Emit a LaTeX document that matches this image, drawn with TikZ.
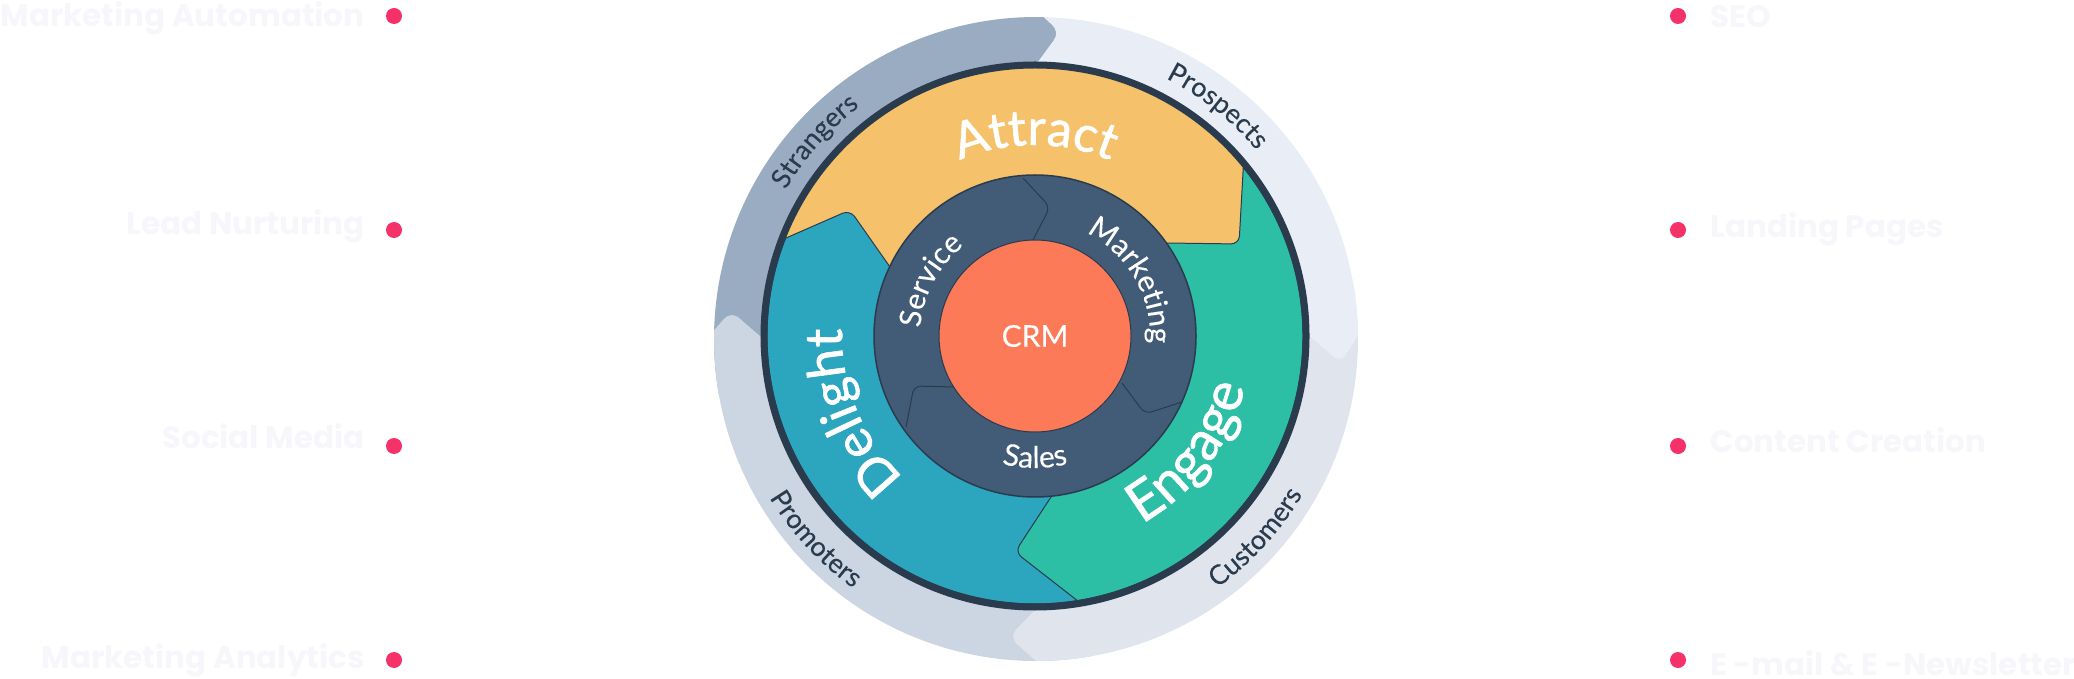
\documentclass[tikz,border=0pt]{standalone}
\usepackage{fontspec}
\usepackage{xcolor}
\usetikzlibrary{decorations.text}
\newfontfamily\wheelfont{Lato}[FakeBold=0.15]
\newfontfamily\stagefont{Lato}[FakeBold=1.2]
\newfontfamily\sidefont{Poppins}
\definecolor{strangersc}{HTML}{9AACC1}
\definecolor{prospectsc}{HTML}{E9EEF6}
\definecolor{customersc}{HTML}{DFE4ED}
\definecolor{promotersc}{HTML}{CBD6E2}
\definecolor{attractc}{HTML}{F5C26B}
\definecolor{engagec}{HTML}{2DBEA6}
\definecolor{delightc}{HTML}{2CA5BF}
\definecolor{hubc}{HTML}{425B76}
\definecolor{rimc}{HTML}{2A3B4E}
\definecolor{crmc}{HTML}{FC7A57}
\definecolor{dotc}{HTML}{F5316A}
\definecolor{sidec}{HTML}{F6F6FB}
\tikzset{
  dot/.style={circle, fill=dotc, minimum size=16, inner sep=0},
  leftlabel/.style={anchor=base east, text=sidec, font=\sidefont\bfseries\fontsize{31}{31}\selectfont},
  rightlabel/.style={anchor=base west, text=sidec, font=\sidefont\bfseries\fontsize{31}{31}\selectfont},
  seam/.style={draw=rimc, line width=1},
  bandtext/.style={decorate, decoration={text along path, text align={align=center}, text={|\wheelfont\fontsize{27}{27}\selectfont\color{rimc}|#1}}},
  hubtext/.style={decorate, decoration={text along path, text align={align=center}, text={|\wheelfont\fontsize{30}{30}\selectfont\color{white}|#1}}},
  stagetext/.style 2 args={decorate, decoration={text along path, text align={align=center}, text={|\stagefont\fontsize{#1}{#1}\selectfont\color{white}|#2}}}
}
\begin{document}
\begin{tikzpicture}[x=1pt, y=1pt]
\useasboundingbox (0,0) rectangle (2074,678);
% side lists
\node (dotauto) [dot] at (394,662) {};
\node (dotlead) [dot] at (394,448) {};
\node (dotsocial) [dot] at (394,232) {};
\node (dotanalytics) [dot] at (394,18) {};
\node (dotseo) [dot] at (1678,662) {};
\node (dotlanding) [dot] at (1678,448) {};
\node (dotcontent) [dot] at (1678,232) {};
\node (dotemail) [dot] at (1678,18) {};
\node (auto) [leftlabel] at (368,651) {Marketing Automation};
\node (lead) [leftlabel] at (368,443) {Lead Nurturing};
\node (social) [leftlabel] at (368,230) {Social Media};
\node (analytics) [leftlabel] at (368,10) {Marketing Analytics};
\node (seo) [rightlabel] at (1707,650) {SEO};
\node (landing) [rightlabel] at (1707,440) {Landing Pages};
\node (content) [rightlabel] at (1707,226) {Content Creation};
\node (email) [rightlabel] at (1707,3) {E -mail \& E -Newsletter};
% outer band
\begin{scope}[shift={(1036,339)}]
\fill [strangersc] (190:322) arc[start angle=190, end angle=88.6, radius=322] [rounded corners=10pt] -- (24,307) [sharp corners] -- (2,277) -- (0,0) -- cycle;
\fill [promotersc] (0,0) -- (-275,2) [rounded corners=10pt] -- (-305,28) [sharp corners] -- (178.4:322) arc[start angle=178.4, end angle=280, radius=322] -- cycle;
\fill [customersc] (0,0) -- (-2,-272) [rounded corners=10pt] -- (-27,-298) [sharp corners] -- (270:322) arc[start angle=270, end angle=370, radius=322] -- cycle;
\fill [prospectsc] (88.6:322) [rounded corners=10pt] -- (24,307) [sharp corners] -- (2,277) -- (0,0) -- (273,3) [rounded corners=10pt] -- (305,-24) [sharp corners] -- (0.7:322) arc[start angle=0.7, end angle=88.6, radius=322] -- cycle;
\end{scope}
\begin{scope}[shift={(1035,342)}]
% wheel
\fill [attractc] (0,0) circle (268);
\path [fill=delightc, seam] (0,0) -- (-145,69) [rounded corners=8pt] -- (-185,126) [sharp corners] -- (158.6:268) arc[start angle=158.6, end angle=279.1, radius=268] -- cycle;
\path [fill=engagec, seam] (39:268) [rounded corners=8pt] -- (204,92) [sharp corners] -- (132,93) -- (0,0) -- (16,-161) [rounded corners=8pt] -- (-20,-216) [sharp corners] -- (279.1:268) arc[start angle=279.1, end angle=399, radius=268] -- cycle;
\node (rim) [circle, draw=rimc, line width=7, minimum size=542, inner sep=0] at (0,0) {};
\node (hub) [circle, fill=hubc, draw=rimc, line width=1.5, minimum size=322, inner sep=0] at (0,0) {};
\draw [seam, rounded corners=7pt] (-12,158) -- (15,129) -- (-2,96);
\draw [seam, rounded corners=7pt] (-129,-91) -- (-121,-50) -- (-81,-51);
\draw [seam, rounded corners=7pt] (87,-47) -- (110,-78) -- (147,-66);
\node (crm) [circle, fill=crmc, draw=rimc, line width=1, minimum size=192, inner sep=0, text=white, font=\wheelfont\fontsize{30}{30}\selectfont] at (0,0) {CRM};
% curved words
\path [stagetext={50}{Attract}] (150:191) arc[start angle=150, end angle=30, radius=191];
\path [stagetext={52}{Delight}] (260:193) arc[start angle=260, end angle=145, radius=193];
\path [stagetext={55}{Engage}] (-100:216) arc[start angle=-100, end angle=26, radius=216];
\path [hubtext=Service] (205:115) arc[start angle=205, end angle=99, radius=115];
\path [hubtext=Marketing] (90:115) arc[start angle=90, end angle=-30, radius=115];
\path [hubtext=Sales] (225:132) arc[start angle=225, end angle=315, radius=132];
\path [bandtext=Strangers] (170:289) arc[start angle=170, end angle=107, radius=289];
\path [bandtext=Prospects] (83:289) arc[start angle=83, end angle=20, radius=289];
\path [bandtext=Promoters] (190:311) arc[start angle=190, end angle=255.6, radius=311];
\path [bandtext=Customers] (-75:311) arc[start angle=-75, end angle=-9.8, radius=311];
\end{scope}
\end{tikzpicture}
\end{document}
